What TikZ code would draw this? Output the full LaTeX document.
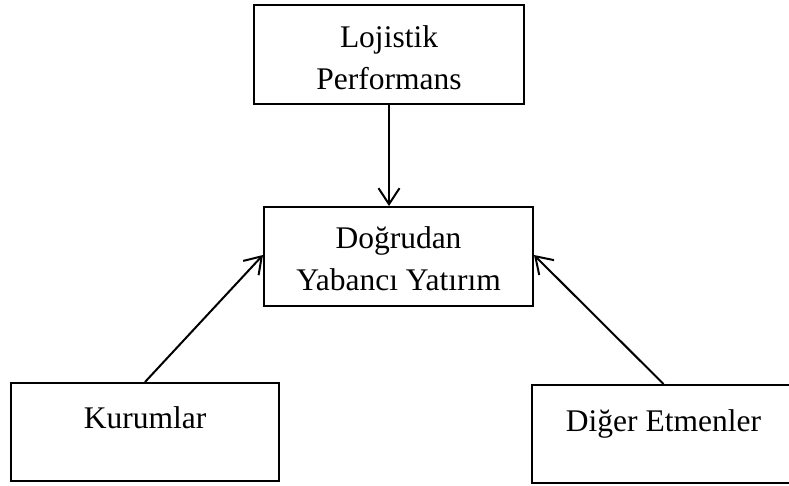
\documentclass[tikz,border=0pt]{standalone}
\usepackage{fontspec}
\setmainfont{Liberation Serif}
\usetikzlibrary{arrows.meta}
\begin{document}
\begin{tikzpicture}[x=1pt,y=-1pt,
  box/.style={draw,line width=2pt,rectangle,inner sep=0pt},
  txt/.style={font=\fontsize{31.5}{42}\selectfont,inner sep=0pt,anchor=base},
  link/.style={line width=2pt,-{Straight Barb[length=16pt,width=21pt,line width=2pt]}}]
  \useasboundingbox (0,0) rectangle (789,485);
  \clip (0,0) rectangle (789,485);
  \fill[white] (0,0) rectangle (789,485);
  % boxes
  \node[box,minimum width=270pt,minimum height=99pt] (lp) at (389,54.5) {};
  \node[box,minimum width=269pt,minimum height=99pt] (dyy) at (398.5,256.5) {};
  \node[box,minimum width=268pt,minimum height=98pt] (kur) at (145,432) {};
  \node[box,minimum width=263pt,minimum height=98pt] (dig) at (663.5,434) {};
  % labels
  \node[txt] (lp1) at (389,47) {Lojistik};
  \node[txt] (lp2) at (389,89) {Performans};
  \node[txt] (dyy1) at (398.5,248) {Doğrudan};
  \node[txt] (dyy2) at (398.5,290) {Yabancı Yatırım};
  \node[txt] (kurt) at (145,428) {Kurumlar};
  \node[txt] (digt) at (663.5,431) {Diğer Etmenler};
  % connectors
  \draw[link] (lp.south) -- (lp.south |- dyy.north);
  \draw[link] (kur.north) -- ([yshift=1.5pt]dyy.west);
  \draw[link] (dig.north) -- ([yshift=1.5pt]dyy.east);
\end{tikzpicture}
\end{document}
